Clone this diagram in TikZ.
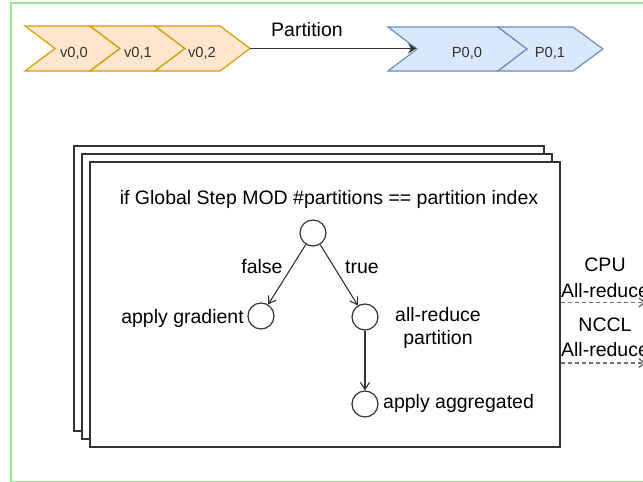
\documentclass[tikz,border=0pt]{standalone}
\usepackage{fontspec}
\setmainfont{Liberation Sans}
\usetikzlibrary{arrows.meta,calc}

\definecolor{framegreen}{RGB}{150,235,150}
\definecolor{orfill}{HTML}{FFE6CC}
\definecolor{orline}{HTML}{D79B00}
\definecolor{blfill}{HTML}{DAE8FC}
\definecolor{blline}{HTML}{6C8EBF}
\definecolor{ink}{HTML}{333333}
\definecolor{dashgray}{HTML}{707070}

\tikzset{
  orchev/.style={fill=orfill, draw=orline, line width=1.2pt, line join=miter},
  blchev/.style={fill=blfill, draw=blline, line width=1.2pt, line join=miter},
  chevtext/.style={font=\fontsize{14.7}{17}\selectfont, text=ink, inner sep=0pt},
  lbl/.style={font=\fontsize{19.5}{23}\selectfont, text=black, inner sep=0pt},
  stackbox/.style={draw=ink, line width=1.6pt, fill=white, inner sep=0pt},
  cnode/.style={circle, draw=ink, line width=1.2pt, fill=white, minimum size=26pt, inner sep=0pt},
  flow/.style={draw=ink, line width=1.1pt, -{Straight Barb[length=7pt,width=9pt]}},
  partarrow/.style={draw=ink, line width=1.3pt, -{Stealth[length=8pt,width=10pt,inset=3pt]}},
  dasharrow/.style={draw=dashgray, line width=1.5pt, dash pattern=on 4pt off 3pt, -{Straight Barb[length=6pt,width=9pt]}}
}

\begin{document}
\begin{tikzpicture}[x=1pt,y=-1pt]
\useasboundingbox (0,0) rectangle (643,482);
\clip (0,0) rectangle (643,482);

% outer frame
\draw[framegreen, line width=1.3pt] (11,3) rectangle (700,481.5);

% source chunks
\draw[orchev] (25,26) -- (90,26) -- (120,48.5) -- (90,71) -- (25,71) -- (55,48.5) -- cycle;
\draw[orchev] (90,26) -- (155,26) -- (185,48.5) -- (155,71) -- (90,71) -- (120,48.5) -- cycle;
\draw[orchev] (155,26) -- (220,26) -- (250,48.5) -- (220,71) -- (155,71) -- (185,48.5) -- cycle;
\node[chevtext] (v00) at (74,53) {v0,0};
\node[chevtext] (v01) at (138,53) {v0,1};
\node[chevtext] (v02) at (202,53) {v0,2};

% partitioned chunks
\draw[blchev] (388,27) -- (498,27) -- (527,49) -- (498,71) -- (388,71) -- (417,49) -- cycle;
\draw[blchev] (498,27) -- (573,27) -- (603,49) -- (573,71) -- (498,71) -- (527,49) -- cycle;
\node[chevtext] (p00) at (467,53) {P0,0};
\node[chevtext] (p01) at (550,53) {P0,1};

% partition step
\coordinate (v02tip) at (250,48.5);
\coordinate (p00notch) at (416,48.5);
\draw[partarrow] (v02tip) -- (p00notch);
\node[lbl] (partlbl) at (307,30) {Partition};

% stacked workers
\node[stackbox, minimum width=470pt, minimum height=285pt] (back2) at (309,288.5) {};
\node[stackbox, minimum width=470pt, minimum height=285pt] (back1) at (317,296.5) {};
\node[stackbox, minimum width=470pt, minimum height=285pt] (front) at (325,304.5) {};

\node[lbl] (cond) at (329,199) {if Global Step MOD \#partitions == partition index};

% decision graph
\node[cnode] (top) at (313,233) {};
\node[cnode] (left) at (261,316) {};
\node[cnode] (right) at (365,317) {};
\node[cnode] (bottom) at (365,404) {};

\draw[flow] (top) -- (left);
\draw[flow] (top) -- (right);
\draw[flow] (right) -- (bottom);

\node[lbl] (falselbl) at (262,267) {false};
\node[lbl] (truelbl) at (362,267) {true};
\node[lbl, anchor=east] (applygrad) at (244,318) {apply gradient};
\node[lbl, align=center] (arpart) at (438,327.5) {all-reduce\\partition};
\node[lbl, anchor=west] (applyagg) at (383,403) {apply aggregated};

% reduction paths
\coordinate (cpuE) at (646,302.5);
\coordinate (ncclE) at (646,363);
\draw[dasharrow] (front.east |- cpuE) -- (cpuE);
\draw[dasharrow] (front.east |- ncclE) -- (ncclE);
\node[lbl, align=center, font=\fontsize{19.5}{26}\selectfont] (cpulbl) at (605,278) {CPU\\All-reduce};
\node[lbl, align=center, font=\fontsize{19.5}{25}\selectfont] (nccllbl) at (605,337.5) {NCCL\\All-reduce};
\end{tikzpicture}
\end{document}
